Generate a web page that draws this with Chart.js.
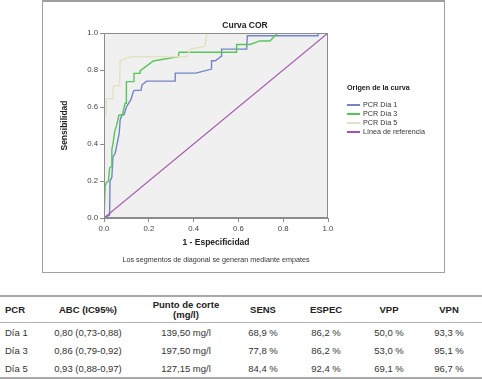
<!DOCTYPE html>
<html lang="es">
  <head>
    <meta charset="UTF-8" />
    <title>Curva COR</title>
    <script src="https://cdn.jsdelivr.net/npm/chart.js"></script>
    <style>
      body {
        margin: 0;
        width: 482px;
        height: 379px;
        position: relative;
        overflow: hidden;
        background: #fff;
        font-family: "Liberation Sans", Arial, sans-serif;
        color: #222;
      }
      #frame {
        position: absolute;
        left: 42px;
        top: 0;
        width: 401px;
        height: 270px;
        border: 1px solid #a0a0a0;
        border-top-width: 2px;
      }
      #roc {
        position: absolute;
        left: 0;
        top: 0;
      }
      .chart-title {
        position: absolute;
        left: 145px;
        width: 200px;
        top: 20px;
        text-align: center;
        font-weight: bold;
        font-size: 8.5px;
      }
      .note {
        position: absolute;
        left: 66px;
        width: 300px;
        top: 255px;
        text-align: center;
        font-size: 7.2px;
        color: #333;
      }
      #legend {
        position: absolute;
        left: 347px;
        top: 83px;
        font-size: 7.2px;
        color: #333;
      }
      #legend .head {
        font-weight: bold;
        color: #222;
        height: 17px;
      }
      #legend .item {
        height: 9px;
        line-height: 9px;
        white-space: nowrap;
      }
      #legend .swatch {
        display: inline-block;
        width: 13px;
        height: 2px;
        vertical-align: middle;
        margin-right: 3px;
        margin-top: -1px;
      }
      #stats {
        position: absolute;
        left: 0;
        top: 295px;
        width: 482px;
        border-collapse: collapse;
        table-layout: fixed;
        font-size: 9.5px;
        border-top: 2px solid #a8a8a8;
        border-bottom: 2px solid #a8a8a8;
      }
      #stats th {
        font-weight: bold;
        color: #222;
        height: 25px;
        padding: 0;
        text-align: center;
        border-bottom: 1px solid #b0b0b0;
        line-height: 10px;
      }
      #stats td {
        height: 18px;
        padding: 0;
        text-align: center;
        color: #333;
      }
      #stats th:first-child,
      #stats td:first-child {
        text-align: left;
        padding-left: 5px;
      }
    </style>
  </head>
  <body>
    <div id="frame"></div>
    <canvas id="roc" width="482" height="280"></canvas>
    <div class="chart-title">Curva COR</div>
    <div id="legend"><div class="head">Origen de la curva</div></div>
    <div class="note">Los segmentos de diagonal se generan mediante empates</div>

    <table id="stats">
      <colgroup>
        <col style="width: 40px" />
        <col style="width: 96px" />
        <col style="width: 100px" />
        <col style="width: 54px" />
        <col style="width: 72px" />
        <col style="width: 54px" />
        <col style="width: 66px" />
      </colgroup>
      <thead><tr id="headRow"></tr></thead>
      <tbody id="bodyRows"></tbody>
    </table>

    <script>
      // curve points (1 - especificidad, sensibilidad)
      const day1Fpr = [0, 0.025, 0.027, 0.035, 0.04, 0.05, 0.055, 0.065, 0.068, 0.072, 0.08, 0.09, 0.1, 0.12, 0.13, 0.135, 0.165, 0.17, 0.19, 0.318, 0.318, 0.41, 0.48, 0.48, 0.497, 0.525, 0.525, 0.637, 0.64, 0.955, 0.958, 1];
      const day1Sens = [0, 0.016, 0.2, 0.22, 0.33, 0.35, 0.38, 0.44, 0.46, 0.53, 0.555, 0.56, 0.6, 0.64, 0.68, 0.69, 0.69, 0.72, 0.74, 0.74, 0.783, 0.783, 0.805, 0.85, 0.85, 0.875, 0.913, 0.913, 0.985, 0.985, 1, 1];

      const day3Fpr = [0, 0.005, 0.01, 0.02, 0.025, 0.035, 0.035, 0.04, 0.048, 0.056, 0.067, 0.082, 0.094, 0.1, 0.1, 0.134, 0.134, 0.161, 0.161, 0.22, 0.332, 0.335, 0.592, 0.592, 0.652, 0.696, 0.741, 0.775, 1];
      const day3Sens = [0, 0.17, 0.19, 0.2, 0.27, 0.28, 0.37, 0.4, 0.47, 0.5, 0.557, 0.557, 0.62, 0.62, 0.737, 0.737, 0.782, 0.782, 0.795, 0.849, 0.872, 0.896, 0.896, 0.938, 0.938, 0.957, 0.957, 1, 1];

      const day5Fpr = [0, 0, 0.01, 0.01, 0.04, 0.042, 0.07, 0.072, 0.12, 0.37, 0.385, 0.45, 0.46, 1];
      const day5Sens = [0, 0.55, 0.565, 0.645, 0.645, 0.715, 0.715, 0.85, 0.872, 0.872, 0.913, 0.928, 1, 1];

      const refFpr = [0, 1];
      const refSens = [0, 1];

      const seriesNames = ["PCR Día 1", "PCR Día 3", "PCR Día 5", "Línea de referencia"];
      const seriesColors = ["#7584c6", "#56c65a", "#e6e1c2", "#a055aa"];
      const axisTicks = [0, 0.2, 0.4, 0.6, 0.8, 1.0];

      // table
      const tableHead = ["PCR", "ABC (IC95%)", "Punto de corte<br>(mg/l)", "SENS", "ESPEC", "VPP", "VPN"];
      const pcrDays = ["Día 1", "Día 3", "Día 5"];
      const abcIc95 = ["0,80 (0,73-0,88)", "0,86 (0,79-0,92)", "0,93 (0,88-0,97)"];
      const cutPoints = ["139,50 mg/l", "197,50 mg/l", "127,15 mg/l"];
      const sensVals = ["68,9 %", "77,8 %", "84,4 %"];
      const especVals = ["86,2 %", "86,2 %", "92,4 %"];
      const vppVals = ["50,0 %", "53,0 %", "69,1 %"];
      const vpnVals = ["93,3 %", "95,1 %", "96,7 %"];

      const toPoints = (xs, ys) => xs.map((x, i) => ({ x: x, y: ys[i] }));
      const curves = [
        toPoints(day1Fpr, day1Sens),
        toPoints(day3Fpr, day3Sens),
        toPoints(day5Fpr, day5Sens),
        toPoints(refFpr, refSens),
      ];

      Chart.defaults.font.family = '"Liberation Sans", Arial, sans-serif';

      const plotFrame = {
        id: "plotFrame",
        beforeDraw(chart) {
          const a = chart.chartArea;
          const ctx = chart.ctx;
          ctx.save();
          ctx.fillStyle = "#f0f0f0";
          ctx.fillRect(a.left, a.top, a.right - a.left, a.bottom - a.top);
          ctx.restore();
        },
        afterDatasetsDraw(chart) {
          const a = chart.chartArea;
          const ctx = chart.ctx;
          ctx.save();
          ctx.strokeStyle = "#8c8c8c";
          ctx.lineWidth = 1;
          ctx.strokeRect(a.left + 0.5, a.top + 0.5, a.right - a.left - 1, a.bottom - a.top - 1);
          ctx.restore();
        },
      };

      const axis = (titleText, fit) => ({
        type: "linear",
        min: 0,
        max: 1,
        afterBuildTicks: (s) => {
          s.ticks = axisTicks.map((v) => ({ value: v }));
        },
        afterFit: fit,
        ticks: {
          callback: (v) => Number(v).toFixed(1),
          font: { size: 7.8 },
          color: "#444",
          padding: 2,
          maxRotation: 0,
          autoSkip: false,
        },
        grid: {
          drawOnChartArea: false,
          drawTicks: true,
          tickLength: 4,
          color: "#8c8c8c",
        },
        border: { display: true, color: "#8c8c8c" },
        title: {
          display: true,
          text: titleText,
          font: { size: 8.5, weight: "bold" },
          color: "#222",
          padding: { top: 4, bottom: 4 },
        },
      });

      new Chart(document.getElementById("roc"), {
        type: "scatter",
        data: {
          datasets: curves.map((pts, i) => ({
            label: seriesNames[i],
            data: pts,
            showLine: true,
            borderColor: seriesColors[i],
            backgroundColor: seriesColors[i],
            borderWidth: i === 3 ? 1.1 : 1.4,
            pointRadius: 0,
            tension: 0,
            order: 3 - i,
          })),
        },
        options: {
          responsive: false,
          animation: false,
          events: [],
          layout: { padding: { left: 56, right: 154, top: 33, bottom: 28 } },
          plugins: { legend: { display: false }, tooltip: { enabled: false } },
          scales: {
            x: axis("1 - Especificidad", (s) => { s.height = 34; }),
            y: axis("Sensibilidad", (s) => { s.width = 48; }),
          },
        },
        plugins: [plotFrame],
      });

      // legend
      const legend = document.getElementById("legend");
      seriesNames.forEach((name, i) => {
        const row = document.createElement("div");
        row.className = "item";
        row.innerHTML = '<span class="swatch" style="background:' + seriesColors[i] + '"></span>' + name;
        legend.appendChild(row);
      });

      // table
      document.getElementById("headRow").innerHTML = tableHead.map((h) => "<th>" + h + "</th>").join("");
      document.getElementById("bodyRows").innerHTML = pcrDays
        .map((d, i) =>
          "<tr>" +
          [d, abcIc95[i], cutPoints[i], sensVals[i], especVals[i], vppVals[i], vpnVals[i]]
            .map((c) => "<td>" + c + "</td>")
            .join("") +
          "</tr>"
        )
        .join("");
    </script>
  </body>
</html>
